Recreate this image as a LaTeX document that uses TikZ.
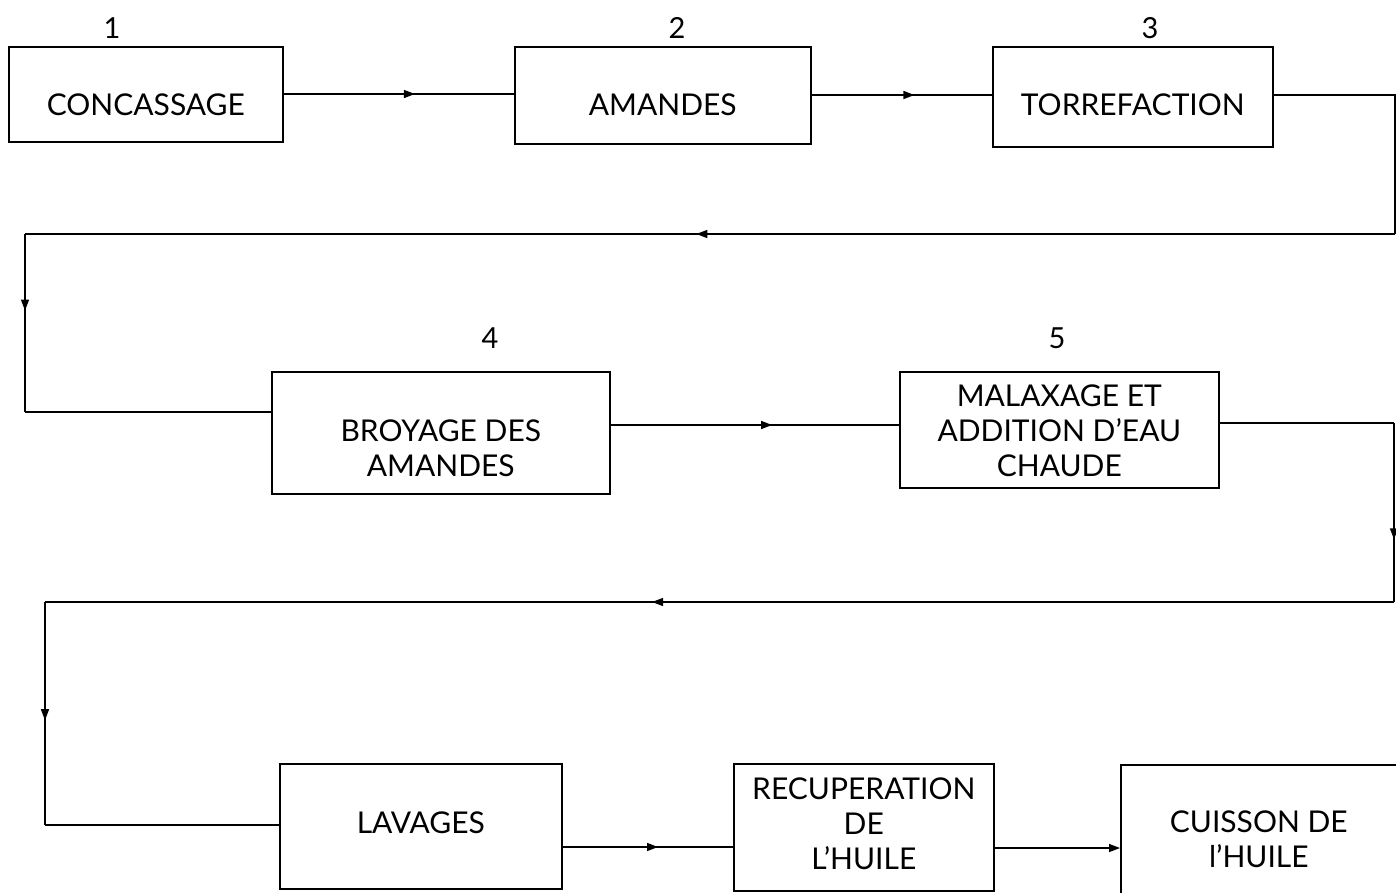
\documentclass[tikz,border=0pt]{standalone}
\usepackage{fontspec}
\setmainfont{Lato}
\usetikzlibrary{decorations.markings,arrows.meta}
\begin{document}
\begin{tikzpicture}[x=1pt,y=-1pt,
  box/.style={draw,line width=1.6pt,inner sep=0pt,anchor=north west},
  txt/.style={align=center,inner sep=0pt,font=\fontsize{30}{35}\selectfont},
  num/.style={font=\fontsize{29}{33}\selectfont},
  conn/.style={line width=1.4pt},
  tip/.style={-{Triangle[length=11pt,width=8pt]}},
  mid/.style={postaction={decorate},decoration={markings,mark=at position #1 with {\arrow{Triangle[length=11pt,width=8pt]}}}}
]
\useasboundingbox (0,0) rectangle (1396,892);
% boxes
\node[box,minimum width=274,minimum height=95] (b1) at (8,46) {};
\node[box,minimum width=296,minimum height=97] (b2) at (514,46) {};
\node[box,minimum width=280,minimum height=100] (b3) at (992,46) {};
\node[box,minimum width=338,minimum height=122] (b4) at (271,371) {};
\node[box,minimum width=319,minimum height=116] (b5) at (899,371) {};
\node[box,minimum width=282,minimum height=125] (b6) at (279,763) {};
\node[box,minimum width=260,minimum height=127] (b7) at (733,763) {};
\node[box,minimum width=276,minimum height=129] (b8) at (1120,764) {};
% texts
\node[txt] (t1) at ([yshift=-10pt]b1.center) {CONCASSAGE};
\node[txt] (t2) at ([yshift=-9pt]b2.center) {AMANDES};
\node[txt] (t3) at ([yshift=-8pt]b3.center) {TORREFACTION};
\node[txt] (t4) at ([yshift=-15pt]b4.center) {BROYAGE DES\\AMANDES};
\node[txt] (t5) at ([yshift=-1pt]b5.center) {MALAXAGE ET\\ADDITION D'EAU\\CHAUDE};
\node[txt] (t6) at ([yshift=4pt]b6.center) {LAVAGES};
\node[txt] (t7) at ([yshift=4pt]b7.center) {RECUPERATION\\DE\\L'HUILE};
\node[txt] (t8) at ([yshift=-10pt]b8.center) {CUISSON DE\\l'HUILE};
% numbers
\node[num] (n1) at (112,28) {1};
\node[num] (n2) at (677,28) {2};
\node[num] (n3) at (1150,28) {3};
\node[num] (n4) at (490,338) {4};
\node[num] (n5) at (1057,338) {5};
% coordinates
\coordinate (c3a) at (1395,95);
\coordinate (c3b) at (1395,234);
\coordinate (c3c) at (25,234);
\coordinate (c3d) at (25,412);
\coordinate (c5a) at (1394,423);
\coordinate (c5b) at (1394,602);
\coordinate (c5c) at (45,602);
\coordinate (c5d) at (45,825);
% connectors
\draw[conn,mid=0.57] (b1.east |- 0,94) -- (b2.west |- 0,94);
\draw[conn,mid=0.57] (b2.east |- 0,95) -- (b3.west |- 0,95);
\draw[conn] (b3.east |- 0,95) -- (c3a) -- (c3b);
\draw[conn,mid=0.51] (c3b) -- (c3c);
\draw[conn,mid=0.43] (c3c) -- (c3d);
\draw[conn] (c3d) -- (b4.west |- c3d);
\draw[conn,mid=0.56] (b4.east |- 0,425) -- (b5.west |- 0,425);
\draw[conn] (b5.east |- c5a) -- (c5a);
\draw[conn,mid=0.65] (c5a) -- (c5b);
\draw[conn,mid=0.55] (c5b) -- (c5c);
\draw[conn,mid=0.53] (c5c) -- (c5d);
\draw[conn] (c5d) -- (b6.west |- c5d);
\draw[conn,mid=0.56] (b6.east |- 0,847) -- (b7.west |- 0,847);
\draw[conn,tip] (b7.east |- 0,848) -- (b8.west |- 0,848);
\end{tikzpicture}
\end{document}
